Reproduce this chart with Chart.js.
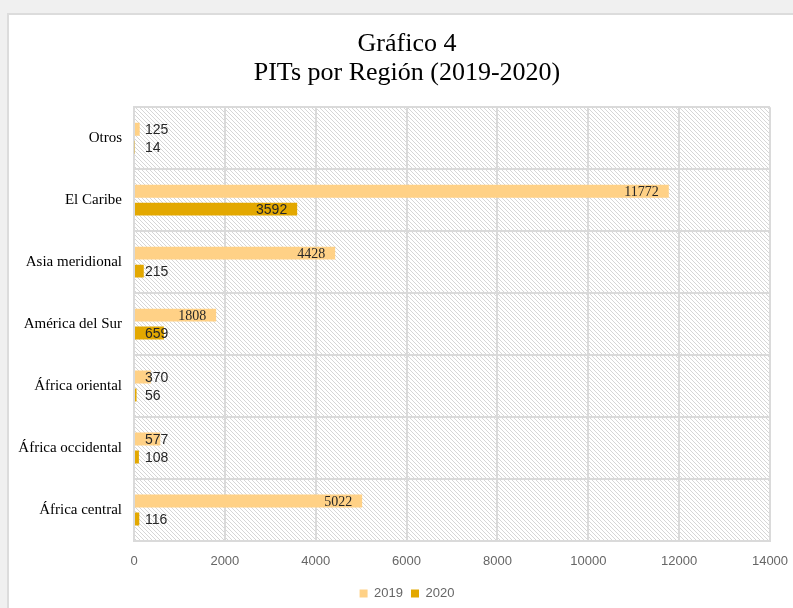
<!DOCTYPE html>
<html lang="es">
<head>
<meta charset="utf-8">
<title>Gráfico 4</title>
<script src="https://cdn.jsdelivr.net/npm/chart.js@4.4.1/dist/chart.umd.min.js"></script>
<style>
  body { margin: 0; background: #f0f0f0; overflow: hidden; }
  #tarjeta {
    position: absolute; left: 7px; top: 13px;
    width: 900px; height: 700px;
    background: #fff; border: 2px solid #dcdcdc;
  }
  #grafico { position: absolute; left: 0; top: 0; }
</style>
</head>
<body>
<div id="tarjeta"></div>
<canvas id="grafico" width="793" height="608"></canvas>

<script>
// ------------------------------------------------------
// Datos
// ------------------------------------------------------
const regiones = [
  "Otros",
  "El Caribe",
  "Asia meridional",
  "América del Sur",
  "África oriental",
  "África occidental",
  "África central"
];
const pits2019 = [125, 11772, 4428, 1808, 370, 577, 5022];
const pits2020 = [14, 3592, 215, 659, 56, 108, 116];
const ticksX = [0, 2000, 4000, 6000, 8000, 10000, 12000, 14000];

// ------------------------------------------------------
// Fondo rayado del área de trazado
// ------------------------------------------------------
function crearRayado() {
  const c = document.createElement("canvas");
  c.width = 4;
  c.height = 4;
  const g = c.getContext("2d");
  g.fillStyle = "#fff";
  g.fillRect(0, 0, 4, 4);
  g.fillStyle = "#d6d6d6";
  for (let i = 0; i < 4; i++) g.fillRect(i, i, 1, 1);
  return c;
}

const fondoRayado = {
  id: "fondoRayado",
  beforeDraw(chart) {
    const { ctx, chartArea: a } = chart;
    ctx.save();
    ctx.fillStyle = ctx.createPattern(crearRayado(), "repeat");
    ctx.fillRect(a.left, a.top, a.right - a.left, a.bottom - a.top);
    ctx.restore();
  }
};

// ------------------------------------------------------
// Nombres de región (a mano, para que no se recorten)
// ------------------------------------------------------
const nombresRegion = {
  id: "nombresRegion",
  afterDraw(chart) {
    const { ctx } = chart;
    const y = chart.scales.y;
    ctx.save();
    ctx.font = "15px 'Liberation Serif'";
    ctx.fillStyle = "#000";
    ctx.textAlign = "right";
    ctx.textBaseline = "middle";
    chart.data.labels.forEach((txt, i) => {
      ctx.fillText(txt, y.right - 12, y.getPixelForValue(i));
    });
    ctx.restore();
  }
};

// ------------------------------------------------------
// Etiquetas de datos (extremo interno, o fuera si no caben)
// ------------------------------------------------------
const etiquetas = {
  id: "etiquetas",
  afterDatasetsDraw(chart) {
    const ctx = chart.ctx;
    ctx.save();
    ctx.textBaseline = "middle";
    ctx.fillStyle = "#262626";
    chart.data.datasets.forEach((ds, i) => {
      chart.getDatasetMeta(i).data.forEach((barra, j) => {
        const texto = String(ds.data[j]);
        const largo = barra.x - barra.base;
        ctx.font = (i === 0 && largo > 60) ? "14px 'Liberation Serif'" : "14px 'Liberation Sans'";
        const w = ctx.measureText(texto).width;
        const x = Math.max(barra.x - 10 - w, barra.base + 10);
        ctx.fillText(texto, x, barra.y + 1);
      });
    });
    ctx.restore();
  }
};

// ------------------------------------------------------
// Gráfico
// ------------------------------------------------------
const gris = "#dadada";

new Chart(document.getElementById("grafico"), {
  type: "bar",
  data: {
    labels: regiones,
    datasets: [
      { label: "2019", data: pits2019, backgroundColor: "#ffd186" },
      { label: "2020", data: pits2020, backgroundColor: "#e3a800" }
    ]
  },
  options: {
    indexAxis: "y",
    responsive: false,
    animation: false,
    devicePixelRatio: 1,
    categoryPercentage: 0.58,
    barPercentage: 0.72,
    layout: { padding: { top: 30, left: 44, right: 23, bottom: -2 } },
    scales: {
      x: {
        min: 0,
        max: 14000,
        afterBuildTicks: (s) => { s.ticks = ticksX.map(v => ({ value: v })); },
        afterFit: (s) => { s.height = 38; },
        grid: { color: gris, lineWidth: 2, drawTicks: true, tickLength: 13, tickColor: "rgba(0,0,0,0)" },
        border: { color: gris, width: 2 },
        ticks: {
          padding: 0,
          color: "#666",
          callback: (v) => String(v),
          font: { family: "'Liberation Sans'", size: 13 }
        }
      },
      y: {
        afterFit: (s) => { s.width = 90; },
        grid: { color: gris, lineWidth: 2, drawTicks: false },
        border: { color: gris, width: 2 },
        ticks: { display: false }
      }
    },
    plugins: {
      title: {
        display: true,
        text: ["Gráfico 4", "PITs por Región (2019-2020)"],
        color: "#000",
        font: { family: "'Liberation Serif'", size: 26, weight: "normal", lineHeight: 1.1 },
        padding: { top: 0, bottom: 20 }
      },
      legend: {
        position: "bottom",
        labels: {
          boxWidth: 8,
          boxHeight: 8,
          padding: 8,
          color: "#666",
          font: { family: "'Liberation Sans'", size: 13 }
        }
      },
      tooltip: { enabled: false }
    }
  },
  plugins: [fondoRayado, etiquetas, nombresRegion]
});
</script>
</body>
</html>
